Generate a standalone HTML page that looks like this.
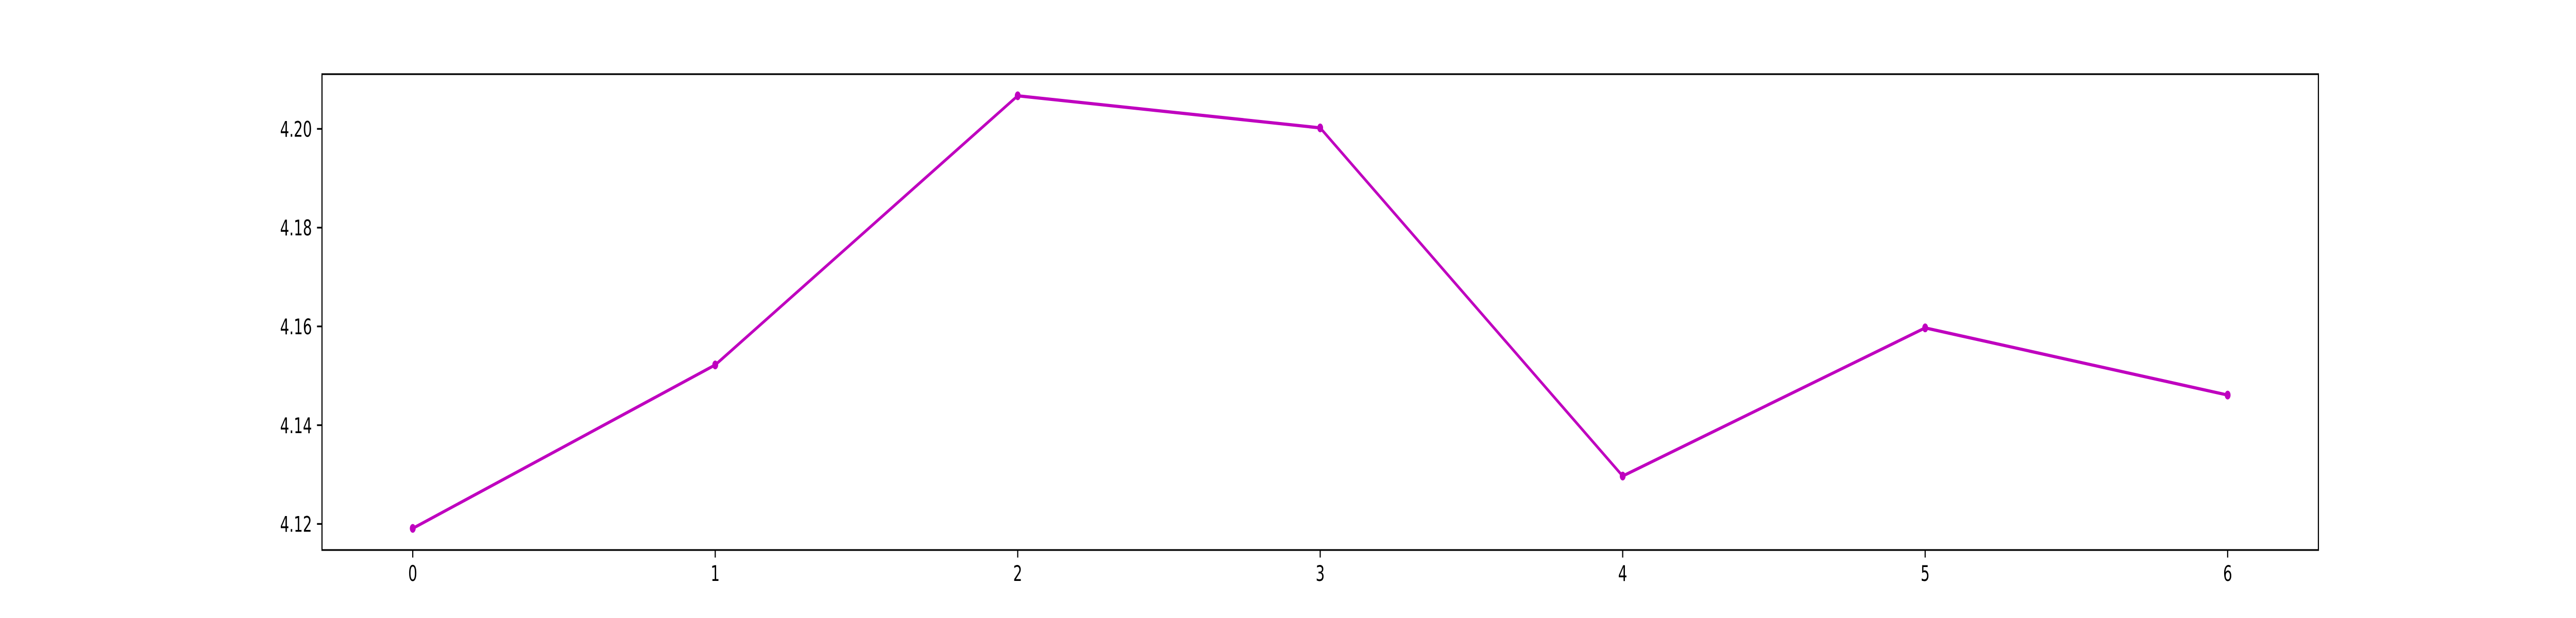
<!DOCTYPE html>
<html><head><meta charset="utf-8"><style>
html,body{margin:0;padding:0;background:#fff;width:100%;height:100%;overflow:hidden;}
svg{display:block;width:100vw;height:100vh;}
text{font-family:"DejaVu Sans","Liberation Sans",sans-serif;font-size:41.7px;fill:#000;}
</style></head><body>
<svg id="chart" viewBox="0 0 7500 1200" preserveAspectRatio="none" xmlns="http://www.w3.org/2000/svg">
<rect x="0" y="0" width="7500" height="1200" fill="#fff"/>
<g id="plot"></g>
</svg>
<script>
const categories = [0, 1, 2, 3, 4, 5, 6];
const values = [4.1191, 4.1522, 4.2067, 4.2002, 4.1297, 4.1597, 4.1461];
const xTickLabels = ["0", "1", "2", "3", "4", "5", "6"];
const yTickValues = [4.12, 4.14, 4.16, 4.18, 4.20];
const yTickLabels = ["4.12", "4.14", "4.16", "4.18", "4.20"];

const NS = "http://www.w3.org/2000/svg";
const L = 937.5, R = 6750, T = 144, B = 1068;
const xMin = -0.3, xMax = 6.3;
const vMin = Math.min(...values), vMax = Math.max(...values);
const pad = (vMax - vMin) * 0.05;
const yMin = vMin - pad, yMax = vMax + pad;
function xs(v){ return L + (v - xMin) / (xMax - xMin) * (R - L); }
function ys(v){ return B - (v - yMin) / (yMax - yMin) * (B - T); }
const g = document.getElementById('plot');
function mk(tag, attrs){ const e = document.createElementNS(NS, tag); for (const k in attrs) e.setAttribute(k, attrs[k]); g.appendChild(e); return e; }

const pts = categories.map((c, i) => xs(c) + ',' + ys(values[i])).join(' ');
const line = mk('polyline', {points: pts, fill: 'none', stroke: '#bf00bf', 'stroke-width': 6.25, 'stroke-linejoin': 'round', 'stroke-linecap': 'square'});


categories.forEach((c, i) => {
  const m = mk('circle', {cx: xs(c), cy: ys(values[i]), r: 8.5, fill: '#bf00bf'});
  
  
});

categories.forEach((c, i) => {
  const t = mk('line', {x1: xs(c), x2: xs(c), y1: B, y2: B + 14.6, stroke: '#000', 'stroke-width': 3.3});
  
  
  const lb = mk('text', {x: xs(c), y: B + 29.2 + 31, 'text-anchor': 'middle'});
  lb.textContent = xTickLabels[i];
  
  
});
yTickValues.forEach((v, i) => {
  const t = mk('line', {x1: L - 14.6, x2: L, y1: ys(v), y2: ys(v), stroke: '#000', 'stroke-width': 3.3});
  
  
  const lb = mk('text', {x: L - 29.2, y: ys(v) + 15.2, 'text-anchor': 'end'});
  lb.textContent = yTickLabels[i];
  
  
});
const fr = mk('rect', {x: L, y: T, width: R - L, height: B - T, fill: 'none', stroke: '#000', 'stroke-width': 3.3});


</script>
</body></html>
